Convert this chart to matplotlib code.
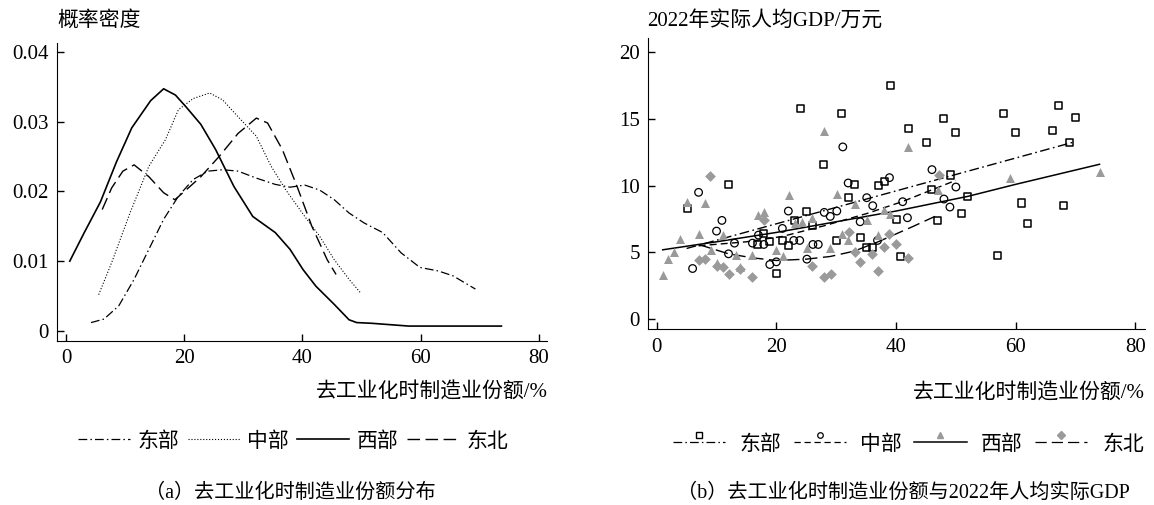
import matplotlib
matplotlib.use('Agg')
import matplotlib.pyplot as plt
from matplotlib.lines import Line2D
from matplotlib.legend_handler import HandlerBase

plt.rcParams['font.family'] = ['Liberation Serif', 'Noto Sans CJK SC']

# ---------------- (a) 概率密度曲线，读图所得点
east_kx = [4.2, 6.4, 8.9, 11.5, 14.0, 16.5, 19.0, 21.5, 24.0, 26.5, 29.1, 32.2, 35.4, 37.9, 40.4,
           42.9, 45.4, 47.9, 50.4, 53.6, 56.7, 59.9, 63.0, 65.5, 69.3]
east_ky = [0.0012, 0.0017, 0.0036, 0.0074, 0.0117, 0.0160, 0.0193, 0.0217, 0.0229, 0.0231, 0.0229,
           0.0219, 0.0210, 0.0206, 0.0209, 0.0202, 0.0188, 0.0169, 0.0155, 0.0141, 0.0112, 0.0091,
           0.0086, 0.0079, 0.0060]
mid_kx = [5.5, 7.7, 10.8, 14.0, 16.8, 19.0, 21.5, 24.3, 26.5, 29.1, 32.2, 34.7, 37.2, 40.4, 42.9,
          45.4, 47.9, 49.8]
mid_ky = [0.0052, 0.0098, 0.0169, 0.0236, 0.0274, 0.0317, 0.0333, 0.0341, 0.0331, 0.0307, 0.0279,
          0.0236, 0.0202, 0.0164, 0.0136, 0.0102, 0.0074, 0.0055]
west_kx = [0.6, 3.0, 5.8, 8.5, 11.1, 14.3, 16.5, 18.5, 20.3, 22.8, 25.3, 28.4, 31.6, 35.4, 37.9, 40.1,
           42.3, 45.4, 47.9, 49.2, 51.7, 58.0, 73.7]
west_ky = [0.0100, 0.0140, 0.0185, 0.0242, 0.0291, 0.0330, 0.0347, 0.0338, 0.0321, 0.0296, 0.0260,
           0.0207, 0.0164, 0.0141, 0.0117, 0.0088, 0.0064, 0.0038, 0.0016, 0.0012, 0.0011, 0.0007, 0.0007]
ne_kx = [6.1, 7.7, 9.6, 11.5, 14.0, 16.5, 18.4, 20.3, 22.8, 25.9, 29.1, 32.2, 34.1, 36.6, 39.1,
         41.6, 44.2, 45.7]
ne_ky = [0.0174, 0.0205, 0.0229, 0.0238, 0.0221, 0.0198, 0.0188, 0.0202, 0.0221, 0.0250, 0.0283,
         0.0305, 0.0298, 0.0260, 0.0207, 0.0150, 0.0102, 0.0081]

# ---------------- (b) 散点
east_x = [5.1, 12.0, 16.9, 17.9, 18.9, 20.0, 21.0, 22.0, 23.1, 24.1, 25.0, 26.0, 27.9, 30.0, 30.9,
          32.0, 33.0, 34.0, 35.1, 36.0, 37.1, 38.0, 39.0, 40.0, 40.8, 42.1, 45.1, 45.9, 46.9, 48.0,
          49.1, 50.0, 50.9, 51.9, 56.9, 58.0, 60.0, 61.0, 61.9, 66.2, 67.1, 68.0, 69.0, 70.0]
east_y = [8.3, 10.1, 5.6, 6.4, 5.8, 3.4, 5.9, 5.5, 7.4, 15.8, 8.1, 7.0, 11.6, 5.9, 15.4,
          9.1, 10.1, 6.1, 5.4, 5.4, 10.0, 10.3, 17.5, 7.5, 4.7, 14.3, 13.2, 9.7, 7.4, 15.0,
          10.8, 14.0, 7.9, 9.2, 4.8, 15.4, 14.0, 8.7, 7.2, 14.1, 16.0, 8.5, 13.2, 15.1]
mid_x = [6.0, 7.0, 10.0, 10.9, 12.0, 13.0, 16.0, 17.0, 17.9, 18.9, 20.0, 21.0, 22.0, 22.9, 23.9,
         25.1, 26.1, 27.0, 28.0, 29.0, 30.1, 31.1, 32.0, 34.0, 35.1, 36.1, 36.9, 38.9, 41.1, 41.9,
         46.0, 48.0, 49.0, 50.0]
mid_y = [3.8, 9.5, 6.6, 7.4, 4.9, 5.7, 5.7, 6.3, 5.6, 4.1, 4.3, 6.8, 8.1, 5.9, 5.9,
         4.5, 5.6, 5.6, 8.0, 7.7, 8.1, 12.9, 10.2, 7.3, 9.1, 8.5, 5.9, 10.6, 8.8, 7.6,
         11.2, 9.0, 8.4, 9.9]
west_x = [1.0, 1.9, 2.9, 3.9, 5.0, 7.1, 8.1, 9.1, 10.0, 11.0, 13.2, 13.9, 16.0, 17.0, 18.0, 20.0,
          21.1, 22.1, 23.1, 24.2, 25.1, 26.0, 28.0, 29.0, 30.1, 31.0, 32.0, 33.1, 35.1, 37.0, 38.0,
          39.0, 42.0, 47.0, 59.0, 74.1]
west_y = [3.3, 4.5, 5.0, 6.0, 8.8, 6.4, 8.7, 5.2, 4.2, 6.3, 4.8, 3.9, 4.8, 7.8, 8.0, 5.2,
          4.7, 9.3, 7.2, 7.3, 5.3, 7.6, 14.1, 5.3, 9.4, 6.4, 5.9, 8.6, 7.4, 6.3, 8.2,
          7.9, 12.9, 9.7, 10.6, 11.0]
ne_x = [7.1, 8.1, 8.9, 10.0, 11.0, 12.0, 14.0, 16.0, 18.0, 26.0, 28.0, 29.1, 32.1, 33.1, 34.0, 36.0,
        37.0, 38.0, 38.9, 40.0, 42.0, 47.1]
ne_y = [4.4, 4.5, 10.7, 4.0, 3.9, 3.4, 3.8, 3.2, 7.4, 4.0, 3.2, 3.4, 6.5, 5.0, 4.3, 4.9,
        3.6, 5.4, 6.4, 5.6, 4.6, 10.8]

# 拟合线
east_fx = [5, 70]
east_fy = [5.3, 13.3]
mid_fx = [7, 15, 21, 28, 35, 41, 50]
mid_fy = [5.5, 5.8, 6.2, 7.0, 7.9, 8.8, 10.4]
west_fx = [1, 10, 20, 30, 40, 52, 60, 74]
west_fy = [5.2, 5.8, 6.5, 7.3, 8.1, 9.2, 10.1, 11.6]
ne_fx = [7, 12, 16, 20, 25, 29, 33, 37, 42.6, 46.5]
ne_fy = [5.6, 4.9, 4.6, 4.4, 4.5, 4.7, 5.1, 5.8, 6.9, 7.7]

labels = ['东部', '中部', '西部', '东北']
gray = '#9a9a9a'
dashdot = (7, 2.5, 1.2, 2.5)
longdash = (9, 4)
shortdash = (5, 3)

fig = plt.figure(figsize=(11.54, 5.05), dpi=100)
ax1 = fig.add_axes([0.0497, 0.3253, 0.4247, 0.5901])
ax2 = fig.add_axes([0.5618, 0.3479, 0.4304, 0.5763])

fs = 15
for ax in (ax1, ax2):
    ax.spines['top'].set_visible(False)
    ax.spines['right'].set_visible(False)
    ax.tick_params(direction='in', length=5, width=1, labelsize=fs, pad=6)

# (a)
l1, = ax1.plot(east_kx, east_ky, color='k', lw=0.9, dashes=dashdot)
l2, = ax1.plot(mid_kx, mid_ky, color='k', lw=0.8, ls=':')
l3, = ax1.plot(west_kx, west_ky, color='k', lw=1.2)
l4, = ax1.plot(ne_kx, ne_ky, color='k', lw=1.0, dashes=longdash)
ax1.set_xlim(-1.5, 81.5)
ax1.set_ylim(-0.0014, 0.0413)
ax1.set_xticks([0, 20, 40, 60, 80])
ax1.set_yticks([0, 0.01, 0.02, 0.03, 0.04])
ax1.set_yticklabels(['0', '0.01', '0.02', '0.03', '0.04'])
ax1.text(0.0, 1.04, '概率密度', transform=ax1.transAxes, fontsize=fs, va='bottom', ha='left')
ax1.text(1.0, -0.175, '去工业化时制造业份额/%', transform=ax1.transAxes, fontsize=fs, va='center', ha='right')

fig.legend([l1, l2, l3, l4], labels, loc='center', bbox_to_anchor=(0.254, 0.125), ncol=4,
           frameon=False, fontsize=fs, handlelength=2.5, handletextpad=0.35, columnspacing=0.4)

# (b)
ax2.scatter(east_x, east_y, marker='s', s=26, facecolors='none', edgecolors='k', linewidths=1.1, zorder=3)
ax2.scatter(mid_x, mid_y, marker='o', s=30, facecolors='none', edgecolors='k', linewidths=0.9, zorder=3)
ax2.scatter(west_x, west_y, marker='^', s=42, color=gray, linewidths=0, zorder=3)
ax2.scatter(ne_x, ne_y, marker='D', s=30, color=gray, linewidths=0, zorder=3)
ax2.plot(east_fx, east_fy, color='k', lw=1.0, dashes=dashdot)
ax2.plot(mid_fx, mid_fy, color='k', lw=1.0, dashes=shortdash)
ax2.plot(west_fx, west_fy, color='k', lw=1.1)
ax2.plot(ne_fx, ne_fy, color='k', lw=1.0, dashes=longdash)
ax2.set_xlim(-1.4, 81.6)
ax2.set_ylim(-0.75, 21.03)
ax2.set_xticks([0, 20, 40, 60, 80])
ax2.set_yticks([0, 5, 10, 15, 20])
ax2.text(-0.002, 1.025, '2022年实际人均GDP/万元', transform=ax2.transAxes, fontsize=fs, va='bottom', ha='left')
ax2.text(1.0, -0.22, '去工业化时制造业份额/%', transform=ax2.transAxes, fontsize=fs, va='center', ha='right')


class MarkerOnTop(HandlerBase):
    def create_artists(self, legend, orig_handle, xdescent, ydescent, width, height, fontsize, trans):
        y = height / 2 - ydescent
        line = Line2D([-xdescent, width - xdescent], [y, y])
        line.update_from(orig_handle)
        line.set_marker('None')
        mk = Line2D([width / 2 - xdescent], [y + 0.5 * height])
        mk.update_from(orig_handle)
        mk.set_linestyle('None')
        line.set_transform(trans)
        mk.set_transform(trans)
        return [line, mk]


h1 = Line2D([], [], color='k', lw=0.9, dashes=dashdot, marker='s', ms=4, mfc='none', mec='k', mew=1)
h2 = Line2D([], [], color='k', lw=0.9, dashes=shortdash, marker='o', ms=4, mfc='none', mec='k', mew=0.9)
h3 = Line2D([], [], color='k', lw=1.1, marker='^', ms=5, mfc=gray, mec=gray)
h4 = Line2D([], [], color='k', lw=0.9, dashes=longdash, marker='D', ms=4, mfc=gray, mec=gray)
fig.legend([h1, h2, h3, h4], labels, loc='center', bbox_to_anchor=(0.787, 0.119), ncol=4,
           frameon=False, fontsize=fs, handlelength=2.5, handletextpad=0.7, columnspacing=0.6,
           handler_map={Line2D: MarkerOnTop()})

fig.text(0.2513, 0.024, '（a）去工业化时制造业份额分布', fontsize=fs - 0.5, ha='center', va='center')
fig.text(0.7825, 0.024, '（b）去工业化时制造业份额与2022年人均实际GDP', fontsize=fs - 0.5, ha='center', va='center')

fig.savefig('out.png', dpi=100, facecolor='white')
